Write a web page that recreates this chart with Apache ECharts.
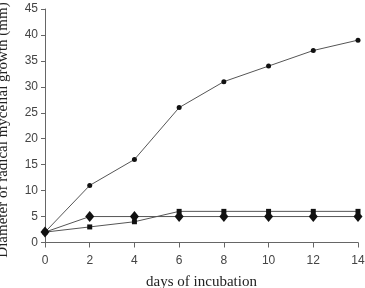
<!DOCTYPE html>
<html><head><meta charset="utf-8">
<script src="https://cdn.jsdelivr.net/npm/echarts@6/dist/echarts.min.js"></script>
<style>html,body{margin:0;padding:0;background:#fff}#c{width:365px;height:288px}</style>
</head><body><div id="c"></div>
<script>
const days = [0, 2, 4, 6, 8, 10, 12, 14];
const seriesCircle = [2, 11, 16, 26, 31, 34, 37, 39];
const seriesSquare = [2, 3, 4, 6, 6, 6, 6, 6];
const seriesDiamond = [2, 5, 5, 5, 5, 5, 5, 5];
const yTitle = 'Diameter of radical mycelial growth (mm)';
const xTitle = 'days of incubation';

const chart = echarts.init(document.getElementById('c'), null, {renderer: 'canvas'});
const pair = arr => days.map((d, i) => [d, arr[i]]);
const lineStyle = {color: '#555', width: 1};
chart.setOption({
  animation: false,
  grid: {left: 45, right: 7, top: 9, bottom: 45.5, containLabel: false, outerBoundsMode: 'none'},
  graphic: [{
    type: 'text', x: 10.5, y: 130, rotation: Math.PI / 2,
    style: {text: yTitle, fontFamily: 'Liberation Serif', fontSize: 15, fill: '#222',
            align: 'center', verticalAlign: 'bottom'}
  }],
  xAxis: {
    type: 'value', min: 0, max: 14, interval: 2,
    name: xTitle, nameLocation: 'middle', nameGap: 32,
    nameTextStyle: {fontFamily: 'Liberation Serif', fontSize: 15, color: '#222'},
    axisLine: {lineStyle: {color: '#666', width: 1}},
    axisTick: {show: true, length: 5, lineStyle: {color: '#666'}},
    axisLabel: {fontFamily: 'Liberation Sans', fontSize: 12, color: '#444', margin: 12},
    splitLine: {show: false}
  },
  yAxis: {
    type: 'value', min: 0, max: 45, interval: 5,
    axisLine: {show: true, lineStyle: {color: '#666', width: 1}},
    axisTick: {show: true, length: 4, lineStyle: {color: '#666'}},
    axisLabel: {fontFamily: 'Liberation Sans', fontSize: 12, color: '#444', margin: 7},
    splitLine: {show: false}
  },
  series: [
    {type: 'line', data: pair(seriesCircle), symbol: 'circle', symbolSize: 5,
     lineStyle, itemStyle: {color: '#111'}},
    {type: 'line', data: pair(seriesSquare), symbol: 'rect', symbolSize: 5,
     lineStyle, itemStyle: {color: '#111'}},
    {type: 'line', data: pair(seriesDiamond), symbol: 'diamond', symbolSize: [9, 11],
     lineStyle, itemStyle: {color: '#111'}}
  ]
});
</script></body></html>
